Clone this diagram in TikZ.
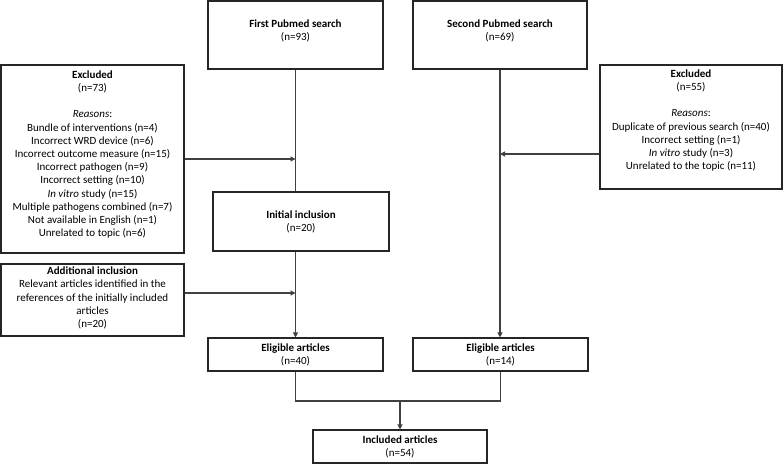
\documentclass[tikz,border=0pt]{standalone}
\usepackage{fontspec}
\setmainfont{Carlito}
\usetikzlibrary{arrows.meta}
\begin{document}
\begin{tikzpicture}[x=1pt,y=-1pt,
  box/.style={draw=black!85, line width=1.1pt, inner sep=0pt},
  txt/.style={align=center, inner sep=0pt, font=\fontsize{11}{13.2}\selectfont},
  conn/.style={draw=black!75, line width=1.1pt},
  arr/.style={conn, -{Triangle[length=5pt,width=5pt]}}]
\useasboundingbox (0,0) rectangle (783,464);
% boxes
\node[box, minimum width=175, minimum height=68] (s1) at (295.5,35) {};
\node[box, minimum width=174, minimum height=68] (s2) at (500,35) {};
\node[box, minimum width=183, minimum height=188] (excl1) at (92.5,159) {};
\node[box, minimum width=182, minimum height=124] (excl2) at (691,127) {};
\node[box, minimum width=176, minimum height=59] (init) at (301,221.5) {};
\node[box, minimum width=183, minimum height=72] (add) at (92.5,300) {};
\node[box, minimum width=175, minimum height=33] (el40) at (295.5,354.5) {};
\node[box, minimum width=175, minimum height=33] (el14) at (500.5,354.5) {};
\node[box, minimum width=174, minimum height=33] (incl) at (400,446.5) {};
% texts
\node[txt] (s1t) at (295.5,30.5) {\textbf{First Pubmed search}\\(n=93)};
\node[txt] (s2t) at (500,30.5) {\textbf{Second Pubmed search}\\(n=69)};
\node[txt] (excl1t) at (92.5,154.5) {\textbf{Excluded}\\(n=73)\\[13.2pt]\textit{Reasons}:\\Bundle of interventions (n=4)\\Incorrect WRD device (n=6)\\Incorrect outcome measure (n=15)\\Incorrect pathogen (n=9)\\Incorrect setting (n=10)\\\textit{In vitro} study (n=15)\\Multiple pathogens combined (n=7)\\Not available in English (n=1)\\Unrelated to topic (n=6)};
\node[txt] (excl2t) at (691,120.5) {\textbf{Excluded}\\(n=55)\\[13.2pt]\textit{Reasons}:\\Duplicate of previous search (n=40)\\Incorrect setting (n=1)\\\textit{In vitro} study (n=3)\\Unrelated to the topic (n=11)};
\node[txt] (initt) at (301,222) {\textbf{Initial inclusion}\\(n=20)};
\node[txt] (addt) at (92.5,298) {\textbf{Additional inclusion}\\Relevant articles identified in the\\references of the initially included\\articles\\(n=20)};
\node[txt] (el40t) at (295.5,355) {\textbf{Eligible articles}\\(n=40)};
\node[txt] (el14t) at (500.5,355) {\textbf{Eligible articles}\\(n=14)};
\node[txt] (inclt) at (400,446.5) {\textbf{Included articles}\\(n=54)};
% connectors
\coordinate (mid) at (400,401);
\draw[conn] (s1.south) -- (s1.south |- init.north);
\draw[arr] (s1.south |- init.south) -- (el40.north);
\draw[arr] (excl1.east) -- (excl1.east -| s1.south);
\draw[arr] ([yshift=7]add.east) -- ([yshift=7]add.east -| s1.south);
\draw[arr] (s2.south) -- (s2.south |- el14.north);
\draw[arr] ([yshift=-27]excl2.west) -- ([yshift=-27]excl2.west -| s2.south);
\draw[conn] (el40.south) |- (mid) -| (el14.south);
\draw[arr] (mid) -- (incl.north);
\end{tikzpicture}
\end{document}
